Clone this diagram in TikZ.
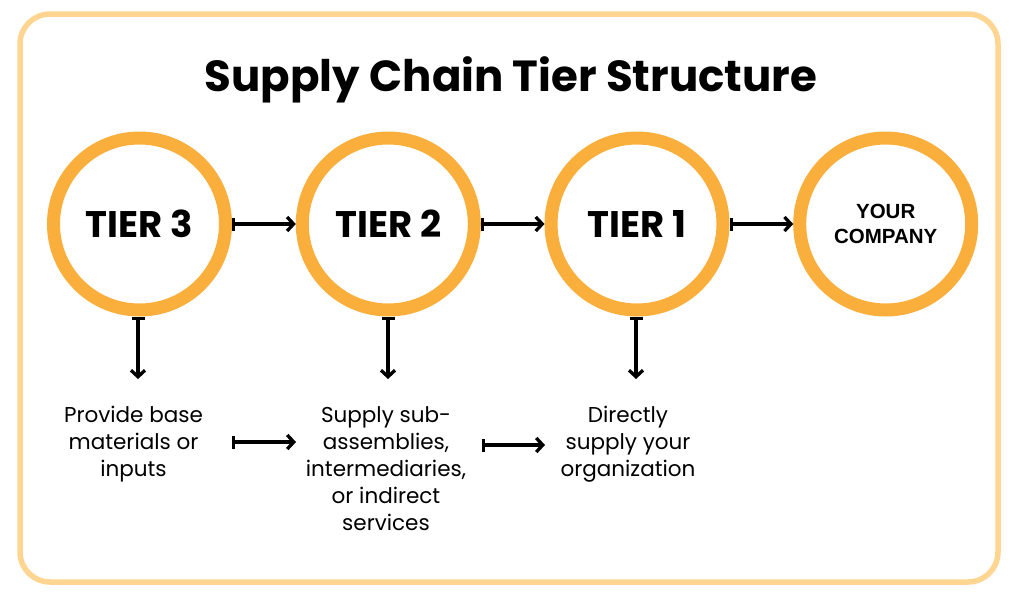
\documentclass[tikz,border=0pt]{standalone}
\usepackage{fontspec}
\setmainfont{Poppins}
\newfontfamily\arialb{Liberation Sans}[BoldFont={* Bold}]
\usetikzlibrary{arrows.meta}
\definecolor{ring}{HTML}{FAAF3C}
\definecolor{frame}{HTML}{FFD591}
\tikzset{
  tier/.style={circle, draw=ring, line width=13pt, minimum size=172pt, inner sep=0pt, font=\fontsize{37}{40}\selectfont\bfseries},
  flow/.style={line width=3.3pt, {Bar[width=13pt,line width=3.3pt]}-{Straight Barb[length=6.5pt,width=14pt,line width=3.3pt]}},
  desc/.style={align=center, font=\fontsize{21.5}{27}\selectfont, inner sep=0pt},
}
\begin{document}
\begin{tikzpicture}[x=1pt,y=-1pt]
\useasboundingbox (0,0) rectangle (1024,597);
\draw[frame, line width=5.5pt, rounded corners=30pt] (20,14) rectangle (998,582);
\node[font=\fontsize{43.5}{47}\selectfont\bfseries] (title) at (511,80) {Supply Chain Tier Structure};
\node[tier] (t3) at (139.5,224) {TIER 3};
\node[tier] (t2) at (388.3,224) {TIER 2};
\node[tier] (t1) at (637,224) {TIER 1};
\node[tier, font=\arialb\bfseries\fontsize{20.5}{25}\selectfont, align=center] (yc) at (885.7,224) {YOUR\\COMPANY};
\draw[flow] (t3) -- (t2);
\draw[flow] (t2) -- (t1);
\draw[flow] (t1) -- (yc);
\coordinate (d3) at (138,379);
\coordinate (d2) at (388,379);
\coordinate (d1) at (636,379);
\draw[flow] (138,317) -- (d3);
\draw[flow] (388,317) -- (d2);
\draw[flow] (636,317) -- (d1);
\node[desc, anchor=north] (b3) at (133.5,406) {Provide base\\materials or\\inputs};
\node[desc, anchor=north] (b2) at (386,406) {Supply sub-\\assemblies,\\intermediaries,\\or indirect\\services};
\node[desc, anchor=north] (b1) at (628,406) {Directly\\supply your\\organization};
\coordinate (a1s) at (232,442);
\coordinate (a1e) at (296,442);
\coordinate (a2s) at (482,445);
\coordinate (a2e) at (545,445);
\draw[flow] (a1s) -- (a1e);
\draw[flow] (a2s) -- (a2e);
\end{tikzpicture}
\end{document}
